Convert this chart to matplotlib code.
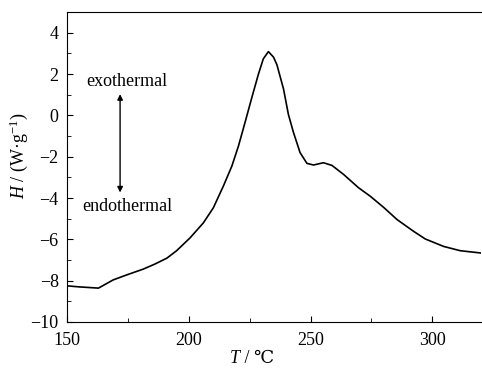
import matplotlib.pyplot as plt
from matplotlib.ticker import MultipleLocator

plt.rcParams["font.family"] = ["Liberation Serif", "DejaVu Serif"]
plt.rcParams["font.size"] = 13
plt.rcParams["mathtext.fontset"] = "custom"
plt.rcParams["mathtext.rm"] = "Liberation Serif"
plt.rcParams["mathtext.it"] = "Liberation Serif:italic"

# DSC heat flow curve
temp = [150, 155, 162.9, 169, 175, 181.3, 186, 191, 195, 200.5, 206.0, 210.1,
        214.2, 217.7, 220.4, 223.1, 225.9, 228.6, 230.6, 232.7, 234.8, 236.2,
        238.9, 240.9, 243.0, 245.7, 248.5, 251.2, 255.3, 258.8, 263.5, 269.7,
        274.5, 280, 285.5, 292.3, 297.1, 304.6, 311.5, 320]
heat = [-8.25, -8.3, -8.36, -7.96, -7.7, -7.44, -7.2, -6.91, -6.55, -5.93,
        -5.2, -4.47, -3.42, -2.45, -1.48, -0.34, 0.87, 2.0, 2.74, 3.09, 2.82,
        2.45, 1.28, 0.05, -0.83, -1.8, -2.32, -2.4, -2.29, -2.42, -2.85, -3.5,
        -3.91, -4.45, -5.04, -5.61, -5.98, -6.34, -6.55, -6.66]

fig = plt.figure(figsize=(4.82, 3.68), dpi=100)
ax = fig.add_axes([0.139, 0.125, 0.859, 0.842])
ax.plot(temp, heat, color="black", lw=1.2)

ax.set_xlim(150, 320)
ax.set_ylim(-10, 5)
ax.xaxis.set_major_locator(MultipleLocator(50))
ax.xaxis.set_minor_locator(MultipleLocator(25))
ax.yaxis.set_major_locator(MultipleLocator(2))
ax.yaxis.set_minor_locator(MultipleLocator(1))
ax.tick_params(which="both", direction="in", top=False, right=False, labelsize=13)
ax.tick_params(which="major", length=4)
ax.tick_params(which="minor", length=3)
ax.tick_params(axis="x", pad=7)
ax.tick_params(axis="y", pad=6)
ax.spines["right"].set_visible(False)

# x label: italic T, then the unit (℃ needs the fallback font, so no mathtext)
ax.text(0.417, -0.119, "T", style="italic", ha="right", va="center",
        transform=ax.transAxes)
ax.text(0.417, -0.119, " / ℃", ha="left", va="center", transform=ax.transAxes)

ax.set_ylabel("$H$ / (W·g$^{-1}$)")
ax.yaxis.set_label_coords(-0.09, 0.535)

ax.annotate("", xy=(171.8, 1.03), xytext=(171.8, -3.73),
            arrowprops=dict(arrowstyle="<|-|>", color="black", lw=1.0,
                            mutation_scale=8, shrinkA=0, shrinkB=0))
ax.text(174.6, 1.63, "exothermal", ha="center", va="center", fontsize=13)
ax.text(174.6, -4.4, "endothermal", ha="center", va="center", fontsize=13)

fig.savefig("out.png", dpi=100)
